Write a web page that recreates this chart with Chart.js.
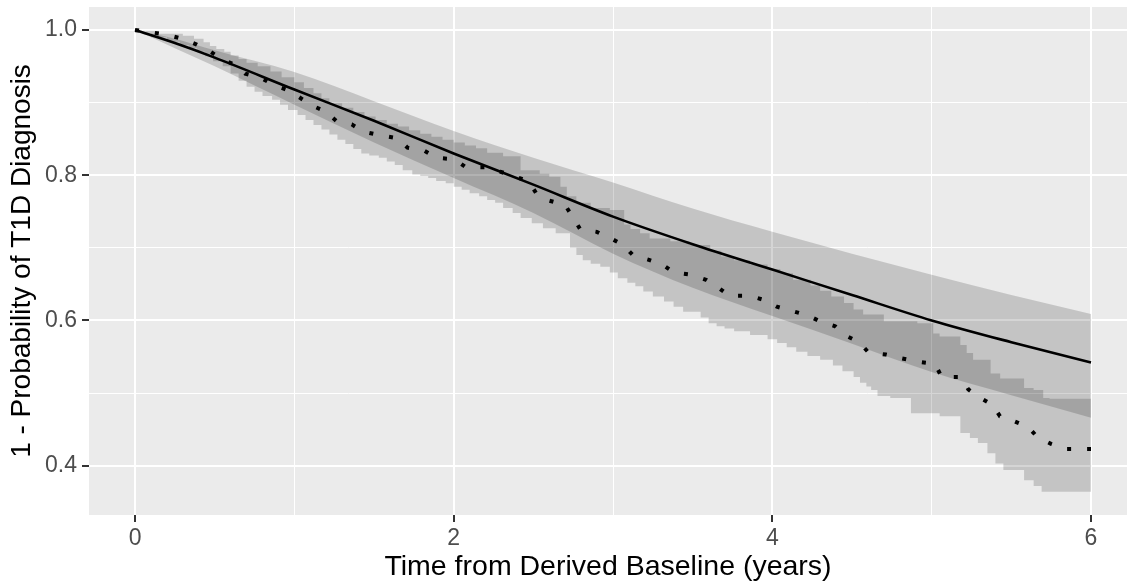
<!DOCTYPE html>
<html><head><meta charset="utf-8">
<script src="https://cdn.jsdelivr.net/npm/chart.js@4.4.0/dist/chart.umd.min.js"></script>
<style>html,body{margin:0;padding:0;background:#fff;overflow:hidden}canvas{display:block}</style>
</head><body>
<canvas id="c" width="1127" height="586"></canvas>
<script>
// ---- Model-based curve (solid) and its confidence band ----
const modelTime  = [0, 0.25, 0.5, 1, 1.5, 2, 2.5, 3, 3.5, 4, 4.5, 5, 5.5, 6];
const modelSurv  = [1.0, 0.982, 0.962, 0.918, 0.875, 0.830, 0.787, 0.743, 0.705, 0.670, 0.635, 0.600, 0.570, 0.542];
const modelUpper = [1.0, 0.988, 0.972, 0.942, 0.902, 0.861, 0.824, 0.790, 0.754, 0.722, 0.692, 0.663, 0.635, 0.609];
const modelLower = [1.0, 0.975, 0.950, 0.897, 0.845, 0.796, 0.748, 0.692, 0.645, 0.606, 0.568, 0.529, 0.497, 0.466];

// ---- Kaplan-Meier curve (dotted) ----
const kmTime = [0, 0.098, 0.199, 0.297, 0.387, 0.471, 0.544, 0.628, 0.691, 0.791, 0.873, 0.962, 1.040, 1.109, 1.195,
  1.262, 1.360, 1.433, 1.538, 1.647, 1.710, 1.814, 1.894, 2.004, 2.076, 2.201, 2.291, 2.390, 2.473, 2.521, 2.600,
  2.699, 2.745, 2.793, 2.898, 2.986, 3.065, 3.124, 3.216, 3.310, 3.383, 3.490, 3.584, 3.661, 3.730, 3.856, 3.950,
  4.028, 4.122, 4.222, 4.306, 4.394, 4.461, 4.545, 4.603, 4.712, 4.805, 4.916, 5.021, 5.063, 5.184, 5.230, 5.299,
  5.381, 5.429, 5.519, 5.607, 5.665, 5.749, 5.837, 6.0];
const kmSurv = [1.0, 0.997, 0.9935, 0.988, 0.980, 0.9705, 0.960, 0.952, 0.940, 0.934, 0.924, 0.917, 0.906, 0.896, 0.888,
  0.875, 0.870, 0.860, 0.855, 0.851, 0.838, 0.834, 0.824, 0.822, 0.811, 0.811, 0.805, 0.798, 0.791, 0.774, 0.765,
  0.759, 0.743, 0.726, 0.722, 0.713, 0.704, 0.690, 0.684, 0.677, 0.666, 0.663, 0.656, 0.645, 0.634, 0.634, 0.628,
  0.619, 0.613, 0.607, 0.598, 0.592, 0.579, 0.570, 0.556, 0.553, 0.548, 0.543, 0.540, 0.522, 0.522, 0.505, 0.494,
  0.484, 0.468, 0.461, 0.453, 0.439, 0.430, 0.423, 0.423];

// ---- Kaplan-Meier confidence band (step function) ----
const kmUpperTime = [0, 0.15, 0.3, 0.37, 0.43, 0.47, 0.51, 0.56, 0.6, 0.65, 0.7, 0.77, 0.85, 0.92, 1.0, 1.06, 1.12,
  1.17, 1.22, 1.3, 1.37, 1.44, 1.51, 1.58, 1.65, 1.72, 1.79, 1.86, 1.93, 2.0, 2.07, 2.14, 2.21, 2.31, 2.42, 2.54,
  2.6, 2.67, 2.71, 2.77, 2.86, 2.98, 3.07, 3.11, 3.17, 3.23, 3.36, 3.48, 3.61, 3.68, 3.76, 3.86, 3.97, 4.05, 4.13,
  4.24, 4.30, 4.37, 4.45, 4.51, 4.57, 4.70, 4.91, 5.01, 5.05, 5.18, 5.22, 5.26, 5.37, 5.43, 5.58, 5.64, 5.70, 5.74, 6.0];
const kmUpper = [1.0, 0.999, 0.995, 0.992, 0.988, 0.983, 0.978, 0.974, 0.970, 0.965, 0.960, 0.955, 0.950, 0.943,
  0.935, 0.928, 0.920, 0.913, 0.906, 0.899, 0.893, 0.887, 0.881, 0.876, 0.871, 0.867, 0.862, 0.857, 0.853, 0.849,
  0.845, 0.841, 0.837, 0.831, 0.826, 0.807, 0.802, 0.798, 0.784, 0.771, 0.762, 0.755, 0.752, 0.732, 0.726, 0.720,
  0.713, 0.709, 0.704, 0.696, 0.688, 0.683, 0.677, 0.671, 0.665, 0.656, 0.648, 0.641, 0.633, 0.624, 0.615, 0.608,
  0.599, 0.596, 0.582, 0.578, 0.566, 0.555, 0.546, 0.527, 0.520, 0.507, 0.504, 0.493, 0.492];
const kmLowerTime = [0, 0.1, 0.2, 0.28, 0.34, 0.39, 0.44, 0.49, 0.55, 0.6, 0.65, 0.7, 0.75, 0.8, 0.86, 0.91, 0.96,
  1.02, 1.07, 1.12, 1.17, 1.22, 1.27, 1.32, 1.37, 1.42, 1.47, 1.53, 1.58, 1.63, 1.68, 1.74, 1.79, 1.84, 1.89, 1.95,
  2.0, 2.05, 2.1, 2.16, 2.21, 2.26, 2.31, 2.37, 2.42, 2.49, 2.56, 2.64, 2.73, 2.77, 2.81, 2.86, 2.92, 2.98, 3.03,
  3.09, 3.14, 3.19, 3.25, 3.32, 3.38, 3.44, 3.55, 3.60, 3.65, 3.70, 3.76, 3.86, 3.97, 4.03, 4.09, 4.15, 4.22, 4.30,
  4.38, 4.44, 4.51, 4.55, 4.59, 4.62, 4.66, 4.74, 4.87, 5.05, 5.18, 5.24, 5.29, 5.35, 5.40, 5.45, 5.58, 5.64, 5.69,
  5.74, 6.0];
const kmLower = [1.0, 0.996, 0.990, 0.984, 0.979, 0.975, 0.970, 0.964, 0.957, 0.950, 0.940, 0.930, 0.922, 0.915,
  0.909, 0.904, 0.897, 0.890, 0.883, 0.876, 0.869, 0.863, 0.856, 0.849, 0.843, 0.836, 0.830, 0.827, 0.824, 0.819,
  0.814, 0.807, 0.801, 0.799, 0.796, 0.792, 0.789, 0.784, 0.780, 0.775, 0.771, 0.766, 0.762, 0.755, 0.748, 0.741,
  0.734, 0.727, 0.720, 0.700, 0.690, 0.683, 0.678, 0.674, 0.666, 0.658, 0.652, 0.647, 0.640, 0.633, 0.626, 0.619,
  0.612, 0.604, 0.596, 0.592, 0.589, 0.585, 0.580, 0.574, 0.569, 0.563, 0.557, 0.551, 0.546, 0.538, 0.530, 0.522,
  0.514, 0.509, 0.504, 0.496, 0.493, 0.472, 0.468, 0.445, 0.438, 0.431, 0.417, 0.403, 0.394, 0.380, 0.372, 0.364,
  0.364];

// ---- Axes ----
const xTickValues = [0, 1, 2, 3, 4, 5, 6];
const xTickLabels = ['0', '', '2', '', '4', '', '6'];
const yTickValues = [0.4, 0.5, 0.6, 0.7, 0.8, 0.9, 1.0];
const yTickLabels = ['0.4', '', '0.6', '', '0.8', '', '1.0'];
const xTitle = 'Time from Derived Baseline (years)';
const yTitle = '1 - Probability of T1D Diagnosis';

const FONT = "'Liberation Sans', Arial, sans-serif";
const bandFill = 'rgba(0,0,0,0.165)';
function pts(xs, ys) { return xs.map((x, i) => ({ x: x, y: ys[i] })); }

const panelBg = {
  id: 'panelBg',
  beforeDraw(chart) {
    const { ctx, chartArea: a } = chart;
    ctx.save();
    ctx.fillStyle = '#ffffff';
    ctx.fillRect(0, 0, chart.width, chart.height);
    ctx.fillStyle = '#EBEBEB';
    ctx.fillRect(a.left, a.top, a.right - a.left, a.bottom - a.top);
    ctx.restore();
  }
};

function isMajorX(v) { return xTickLabels[xTickValues.indexOf(v)] !== ''; }
function yIndex(v) { return yTickValues.findIndex(t => Math.abs(t - v) < 1e-9); }
function isMajorY(v) { const i = yIndex(v); return i >= 0 && yTickLabels[i] !== ''; }

new Chart(document.getElementById('c'), {
  type: 'line',
  data: {
    datasets: [
      { data: pts(modelTime, modelLower), borderWidth: 0, borderColor: 'rgba(0,0,0,0)', pointRadius: 0, fill: false, cubicInterpolationMode: 'monotone' },
      { data: pts(modelTime, modelUpper), borderWidth: 0, borderColor: 'rgba(0,0,0,0)', pointRadius: 0, fill: '-1', backgroundColor: bandFill, cubicInterpolationMode: 'monotone' },
      { data: pts(kmLowerTime, kmLower), borderWidth: 0, borderColor: 'rgba(0,0,0,0)', pointRadius: 0, fill: false, stepped: 'after' },
      { data: pts(kmUpperTime, kmUpper), borderWidth: 0, borderColor: 'rgba(0,0,0,0)', pointRadius: 0, fill: '-1', backgroundColor: bandFill, stepped: 'after' },
      { data: pts(modelTime, modelSurv), borderWidth: 2.6, borderColor: '#000000', pointRadius: 0, fill: false, cubicInterpolationMode: 'monotone' },
      { data: pts(kmTime, kmSurv), borderWidth: 4, borderColor: '#000000', borderDash: [4, 16], borderCapStyle: 'butt', pointRadius: 0, fill: false, tension: 0 }
    ]
  },
  options: {
    responsive: false,
    animation: false,
    devicePixelRatio: 1,
    layout: { padding: { top: 7, right: 0, left: 0, bottom: 0 } },
    plugins: { legend: { display: false }, tooltip: { enabled: false } },
    scales: {
      x: {
        type: 'linear', min: -0.289, max: 6.226,
        afterBuildTicks(s) { s.ticks = xTickValues.map(v => ({ value: v })); },
        afterFit(s) { s.height = 71; s.paddingLeft = 0; s.paddingRight = 0; },
        border: { display: false },
        grid: {
          color: '#FFFFFF',
          lineWidth: c => (c.tick && isMajorX(c.tick.value)) ? 2 : 1,
          tickColor: c => (c.tick && isMajorX(c.tick.value)) ? '#333333' : 'rgba(0,0,0,0)',
          tickWidth: 2, tickLength: 7, drawTicks: true
        },
        ticks: {
          autoSkip: false, maxRotation: 0, padding: 3, color: '#4D4D4D',
          font: { family: FONT, size: 23 },
          callback: (v) => { const i = xTickValues.indexOf(v); return i >= 0 ? xTickLabels[i] : ''; }
        },
        title: { display: true, text: xTitle, color: '#000000', font: { family: FONT, size: 28.5 }, padding: { top: 0, bottom: 2 } }
      },
      y: {
        type: 'linear', min: 0.332, max: 1.0317,
        afterBuildTicks(s) { s.ticks = yTickValues.map(v => ({ value: v })); },
        afterFit(s) { s.width = 89; s.paddingTop = 0; s.paddingBottom = 0; },
        border: { display: false },
        grid: {
          color: '#FFFFFF',
          lineWidth: c => (c.tick && isMajorY(c.tick.value)) ? 2 : 1,
          tickColor: c => (c.tick && isMajorY(c.tick.value)) ? '#333333' : 'rgba(0,0,0,0)',
          tickWidth: 2, tickLength: 7, drawTicks: true
        },
        ticks: {
          autoSkip: false, padding: 5, color: '#4D4D4D',
          font: { family: FONT, size: 23 },
          callback: (v) => { const i = yIndex(v); return i >= 0 ? yTickLabels[i] : ''; }
        },
        title: { display: true, text: yTitle, color: '#000000', font: { family: FONT, size: 28 }, padding: { top: 5, bottom: 0 } }
      }
    }
  },
  plugins: [panelBg]
});
</script>
</body></html>
